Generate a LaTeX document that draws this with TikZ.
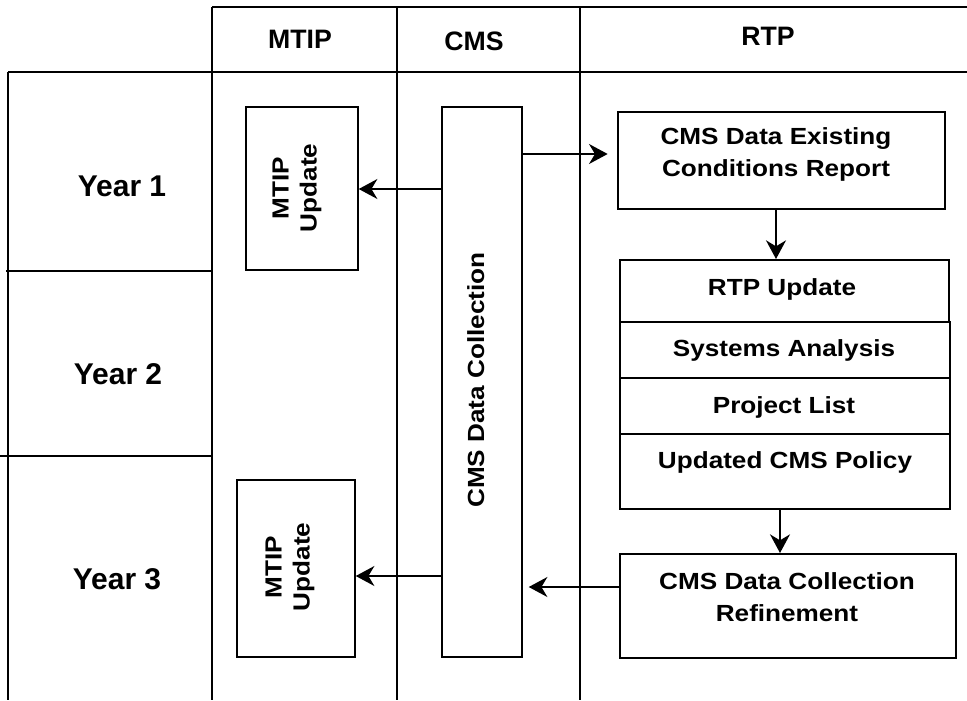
\documentclass[tikz,border=0pt]{standalone}
\usepackage{fontspec}
\setmainfont{Liberation Sans}
\newfontfamily\boxfont{Liberation Sans}[FakeStretch=1.12]
\usetikzlibrary{arrows.meta}
\begin{document}
\begin{tikzpicture}[x=0.75pt,y=-0.75pt,
  gridline/.style={line width=1.3pt},
  box/.style={draw, line width=1.3pt, inner sep=0pt, anchor=north west},
  hdr/.style={font=\bfseries\fontsize{20}{24}\selectfont, anchor=base, inner sep=0pt},
  yr/.style={font=\bfseries\fontsize{22.5}{26}\selectfont, anchor=base, inner sep=0pt},
  btxt/.style={font=\boxfont\bfseries\fontsize{17.5}{24}\selectfont, align=center, inner sep=0pt},
  rtxt/.style={font=\boxfont\bfseries\fontsize{17.5}{21}\selectfont, align=center, inner sep=0pt, rotate=90},
  arr/.style={line width=1.2pt, -{Stealth[length=14pt,width=15pt,inset=4.5pt]}}
]
\useasboundingbox (0,0) rectangle (967,700);

% table grid
\draw[gridline] (212,7) -- (967,7);
\draw[gridline] (8,72) -- (967,72);
\draw[gridline] (212,7) -- (212,700);
\draw[gridline] (397,7) -- (397,700);
\draw[gridline] (580,7) -- (580,700);
\draw[gridline] (8,72) -- (8,700);
\draw[gridline] (6,271) -- (212,271);
\draw[gridline] (0,456) -- (212,456);

% headers
\node[hdr] (hmtip) at (300,48) {MTIP};
\node[hdr] (hcms) at (474,50) {CMS};
\node[hdr] (hrtp) at (768,45) {RTP};

% years
\node[yr] (y1) at (122,196) {Year 1};
\node[yr] (y2) at (118,384) {Year 2};
\node[yr] (y3) at (117,589) {Year 3};

% boxes
\node[box, minimum width=84pt, minimum height=122.25pt] (mtipA) at (245,106) {};
\node[box, minimum width=60pt, minimum height=412.5pt] (cms) at (441,106) {};
\node[box, minimum width=88.5pt, minimum height=132.75pt] (mtipB) at (236,479) {};
\node[box, minimum width=245.25pt, minimum height=72.75pt] (exist) at (617,111) {};
\node[box, minimum width=246.75pt, minimum height=46.5pt] (rtpu) at (619,259) {};
\node[box, minimum width=247.5pt, minimum height=42pt] (sys) at (619,321) {};
\node[box, minimum width=247.5pt, minimum height=42pt] (proj) at (619,377) {};
\node[box, minimum width=247.5pt, minimum height=56.25pt] (pol) at (619,433) {};
\node[box, minimum width=252pt, minimum height=78pt] (ref) at (619,553) {};

% box texts
\node[rtxt] (tmtipA) at (297,188) {MTIP\\Update};
\node[rtxt] (tmtipB) at (290,567) {MTIP\\Update};
\node[rtxt, anchor=base] (tcms) at (484,380) {CMS Data Collection};
\node[btxt] (texist) at (776,154) {CMS Data Existing\\Conditions Report};
\node[btxt, anchor=base] (trtpu) at (782,295) {RTP Update};
\node[btxt, anchor=base] (tsys) at (784,356) {Systems Analysis};
\node[btxt, anchor=base] (tproj) at (784,413) {Project List};
\node[btxt, anchor=base] (tpol) at (785,468) {Updated CMS Policy};
\node[btxt] (tref) at (787,597) {CMS Data Collection\\Refinement};

% helper coordinates
\coordinate (ya) at (0,189);
\coordinate (yb) at (0,154);
\coordinate (yc) at (0,576);
\coordinate (yd) at (0,587);
\coordinate (xa) at (776,0);
\coordinate (xb) at (780,0);

% connectors
\draw[arr] (cms.west |- ya) -- (mtipA.east |- ya);
\draw[arr, shorten >=7pt] (cms.east |- yb) -- (exist.west |- yb);
\draw[arr] (exist.south -| xa) -- (rtpu.north -| xa);
\draw[arr] (pol.south -| xb) -- (ref.north -| xb);
\draw[arr, shorten >=4.5pt] (ref.west |- yd) -- (cms.east |- yd);
\draw[arr] (cms.west |- yc) -- (mtipB.east |- yc);
\end{tikzpicture}
\end{document}
